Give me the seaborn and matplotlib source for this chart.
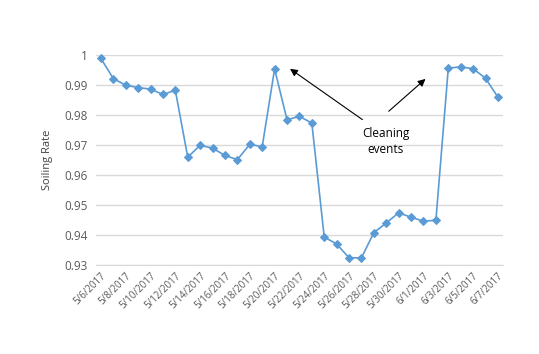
import matplotlib
matplotlib.use("Agg")
import matplotlib.pyplot as plt
import seaborn as sns
import pandas as pd
import numpy as np

dates = ["5/6/2017", "5/7/2017", "5/8/2017", "5/9/2017", "5/10/2017", "5/11/2017",
         "5/12/2017", "5/13/2017", "5/14/2017", "5/15/2017", "5/16/2017", "5/17/2017",
         "5/18/2017", "5/19/2017", "5/20/2017", "5/21/2017", "5/22/2017", "5/23/2017",
         "5/24/2017", "5/25/2017", "5/26/2017", "5/27/2017", "5/28/2017", "5/29/2017",
         "5/30/2017", "5/31/2017", "6/1/2017", "6/2/2017", "6/3/2017", "6/4/2017",
         "6/5/2017", "6/6/2017", "6/7/2017"]
soiling = [0.9988, 0.9921, 0.9899, 0.9891, 0.9886, 0.9868, 0.9882, 0.9659, 0.9699,
           0.9689, 0.9665, 0.9651, 0.9702, 0.9694, 0.9953, 0.9784, 0.9795, 0.9773,
           0.9393, 0.9370, 0.9324, 0.9324, 0.9408, 0.9440, 0.9474, 0.9459, 0.9446,
           0.9449, 0.9956, 0.9960, 0.9954, 0.9922, 0.9859]
y_ticks = [0.93, 0.94, 0.95, 0.96, 0.97, 0.98, 0.99, 1.0]
y_tick_labels = ["0.93", "0.94", "0.95", "0.96", "0.97", "0.98", "0.99", "1"]

df = pd.DataFrame({"idx": np.arange(len(dates)), "date": dates, "rate": soiling})

sns.set_style("white")
plt.rcParams["font.family"] = ["Open Sans", "DejaVu Sans"]

fig = plt.figure(figsize=(5.39, 3.54), dpi=100)
ax = fig.add_axes([0.178, 0.2514, 0.755, 0.5936])

sns.lineplot(data=df, x="idx", y="rate", ax=ax, color="#5B9BD5", linewidth=1.2,
             marker="D", markersize=4.2, markeredgecolor="#5B9BD5", clip_on=False)

ax.set_ylim(0.93, 1.0)
ax.set_xlim(-0.4, len(dates) - 1 + 0.4)
ax.set_yticks(y_ticks)
ax.set_yticklabels(y_tick_labels)
ax.yaxis.grid(True, color="#D9D9D9", linewidth=1)
ax.set_axisbelow(True)
xt = df["idx"].values[::2]
ax.set_xticks(xt)
ax.set_xticklabels(df["date"].values[::2], rotation=45, ha="right", rotation_mode="anchor")
ax.tick_params(axis="both", length=0, colors="#595959")
ax.tick_params(axis="y", labelsize=8.5, pad=6)
ax.tick_params(axis="x", labelsize=7, pad=4)
for s in ["top", "right", "left"]:
    ax.spines[s].set_visible(False)
ax.spines["bottom"].set_color("#D9D9D9")
ax.set_xlabel("")
ax.set_ylabel("Soiling Rate", fontsize=8, color="#404040", labelpad=8)

ax.text(22.95, 0.9712, "Cleaning\nevents", ha="center", va="center", fontsize=8.5,
        color="#000000", linespacing=1.25)
ax.annotate("", xy=(15.06, 0.9959), xytext=(21.26, 0.9779),
            arrowprops=dict(arrowstyle="-|>", color="#000000", lw=0.8, mutation_scale=11))
ax.annotate("", xy=(26.33, 0.9926), xytext=(23.03, 0.9806),
            arrowprops=dict(arrowstyle="-|>", color="#000000", lw=0.8, mutation_scale=11))

fig.savefig("out.png", dpi=100, facecolor="white")
